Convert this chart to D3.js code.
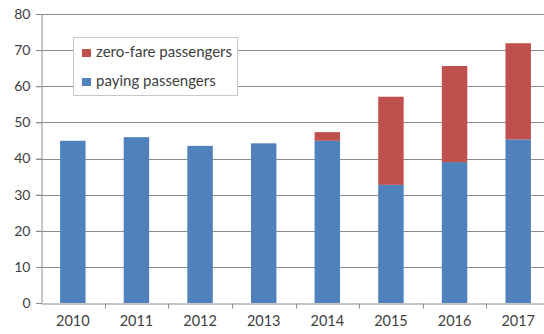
<!DOCTYPE html>
<html>
<head>
<meta charset="utf-8">
<script src="https://cdn.jsdelivr.net/npm/d3@7"></script>
<style>
  body { margin: 0; background: #fff; }
  svg text { font-family: Lato, "Open Sans", sans-serif; fill: #404040; }
</style>
</head>
<body>
<div id="chart"></div>
<script>
let years = ["2010", "2011", "2012", "2013", "2014", "2015", "2016", "2017"];
let paying = [44.9, 45.9, 43.5, 44.2, 44.9, 32.7, 39.0, 45.3];
let zeroFare = [0, 0, 0, 0, 2.4, 24.4, 26.6, 26.6];
let yTicks = [0, 10, 20, 30, 40, 50, 60, 70, 80];
let seriesNames = ["zero-fare passengers", "paying passengers"];
let colors = {"paying passengers": "#4F81BD", "zero-fare passengers": "#C0504D"};

let width = 544, height = 334;
let margin = {top: 14, left: 41, bottom: 31};
let plotRight = 550;

let svg = d3.select("#chart").append("svg")
    .attr("width", width)
    .attr("height", height);

let xScale = d3.scaleBand().domain(years).range([margin.left, plotRight])
    .paddingInner(0.6).paddingOuter(0.3);
let yScale = d3.scaleLinear().domain([0, 80]).range([height - margin.bottom, margin.top]);

// gridlines
svg.append("g").selectAll("line")
    .data(yTicks.filter(d => d > 0))
    .join("line")
    .attr("x1", margin.left - 5)
    .attr("x2", width)
    .attr("y1", d => Math.round(yScale(d)) + 0.5)
    .attr("y2", d => Math.round(yScale(d)) + 0.5)
    .attr("stroke", "#8c8c8c")
    .attr("stroke-width", 1);

// bars
let stackData = years.map((y, i) => ({year: y, paying: paying[i], zero: zeroFare[i]}));
svg.append("g").selectAll("rect.pay")
    .data(stackData)
    .join("rect")
    .attr("class", "pay")
    .attr("x", d => xScale(d.year))
    .attr("width", xScale.bandwidth())
    .attr("y", d => yScale(d.paying))
    .attr("height", d => yScale(0) - yScale(d.paying))
    .attr("fill", colors["paying passengers"]);
svg.append("g").selectAll("rect.zero")
    .data(stackData.filter(d => d.zero > 0))
    .join("rect")
    .attr("class", "zero")
    .attr("x", d => xScale(d.year))
    .attr("width", xScale.bandwidth())
    .attr("y", d => yScale(d.paying + d.zero))
    .attr("height", d => yScale(d.paying) - yScale(d.paying + d.zero))
    .attr("fill", colors["zero-fare passengers"]);

// y axis
let yAxis = d3.axisLeft(yScale).tickValues(yTicks).tickSize(5).tickPadding(6);
let gy = svg.append("g")
    .attr("transform", "translate(" + (margin.left + 0.5) + ",0)")
    .call(yAxis);
gy.select(".domain").attr("stroke", "#8c8c8c");
gy.selectAll(".tick line").attr("stroke", "#8c8c8c");
gy.selectAll(".tick text").style("font-size", "14px").attr("fill", "#404040");

// x axis
let xAxis = d3.axisBottom(xScale).tickSize(0).tickPadding(12);
let gx = svg.append("g")
    .attr("transform", "translate(0," + (Math.round(yScale(0)) + 0.5) + ")")
    .call(xAxis);
gx.select(".domain").attr("stroke", "#8c8c8c");
gx.selectAll(".tick text").style("font-size", "14.5px").attr("fill", "#404040");
let step = xScale.step();
gx.selectAll(".sep")
    .data(years.slice(1))
    .join("line")
    .attr("class", "sep")
    .attr("x1", d => Math.round(xScale(d) - (step - xScale.bandwidth()) / 2) + 0.5)
    .attr("x2", d => Math.round(xScale(d) - (step - xScale.bandwidth()) / 2) + 0.5)
    .attr("y1", 0)
    .attr("y2", 5)
    .attr("stroke", "#8c8c8c");

// legend
let legend = svg.append("g").attr("transform", "translate(73,37)");
legend.append("rect")
    .attr("x", 0.5).attr("y", 0.5)
    .attr("width", 164).attr("height", 58)
    .attr("fill", "#fff")
    .attr("stroke", "#c8c8c8");
seriesNames.forEach((name, i) => {
    legend.append("rect")
        .attr("x", 9).attr("y", 12 + i * 29)
        .attr("width", 9).attr("height", 8)
        .attr("fill", colors[name]);
    legend.append("text")
        .attr("x", 23).attr("y", 20 + i * 29)
        .style("font-size", "15px")
        .text(name);
});
</script>
</body>
</html>
